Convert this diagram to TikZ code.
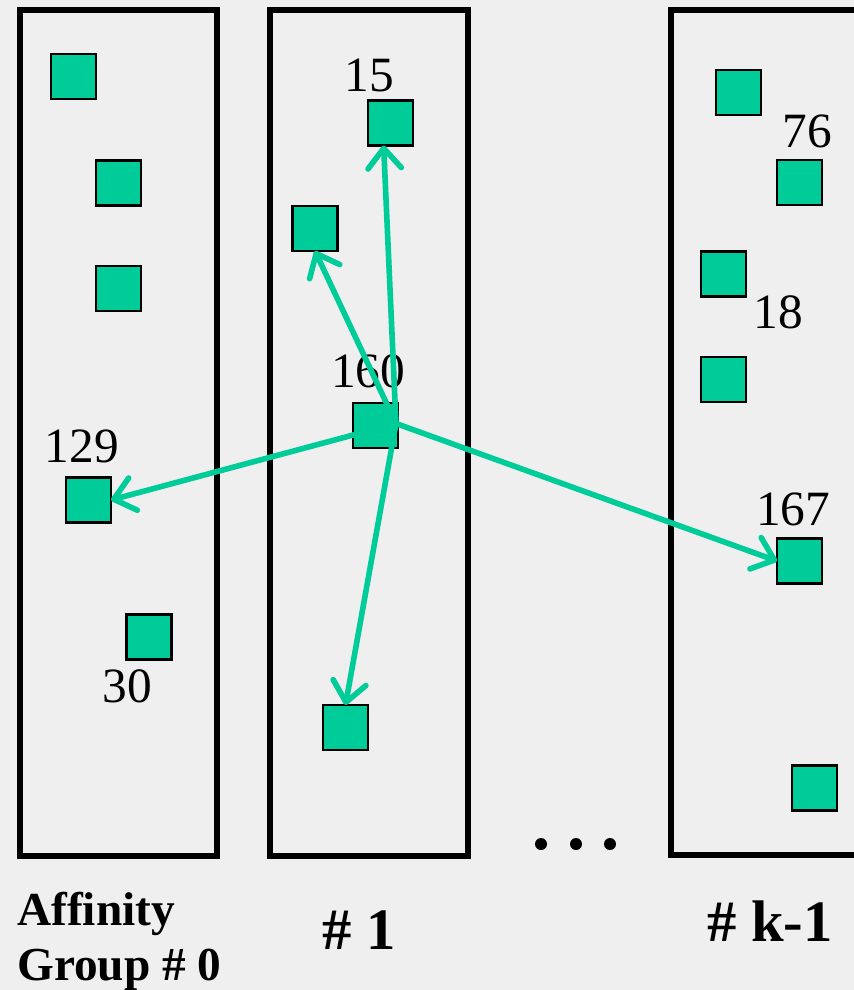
\documentclass[tikz,border=0pt]{standalone}
\usepackage{fontspec}
\setmainfont{Liberation Serif}
\usetikzlibrary{arrows.meta}
\definecolor{bg}{HTML}{EFEFEF}
\definecolor{grn}{HTML}{00CC99}
\begin{document}
\begin{tikzpicture}[x=0.75pt,y=-0.75pt,
  grp/.style={draw=black,line width=4.5pt},
  item/.style={draw=black,fill=grn,line width=1.8pt,minimum size=33.75pt,inner sep=0pt,outer sep=0pt},
  num/.style={inner sep=0pt,font=\fontsize{37}{40}\selectfont},
  capt/.style={inner sep=0pt,font=\fontsize{35.5}{40}\selectfont\bfseries},
  hcapt/.style={inner sep=0pt,font=\fontsize{44}{50}\selectfont\bfseries},
  link/.style={draw=grn,line width=4.2pt,line cap=round,-{Straight Barb[length=15pt,width=25pt,line cap=round,line join=round]}},
  dot/.style={fill=black}
]
\fill[bg] (0,0) rectangle (854,990);
\useasboundingbox (0,0) rectangle (854,990);
% groups
\draw[grp] (20,10) rectangle (217,856);
\draw[grp] (270,10) rectangle (468,856);
\begin{scope}
\clip (0,0) rectangle (854,990);
\draw[grp] (670.5,10) rectangle (880,855);
\end{scope}
% group 0
\node[item] (a1) at (73.5,76.5) {};
\node[item] (a2) at (118.5,183) {};
\node[item] (a3) at (118.5,288.5) {};
\node[item] (a129) at (88.5,500) {};
\node[item] (a30) at (149,637) {};
\node[num] (l129) at (82,446) {129};
\node[num] (l30) at (127,686.5) {30};
% group 1
\node[item] (b15) at (390.5,123) {};
\node[item] (b2) at (315,228.5) {};
\node[item] (b160) at (375.5,425.5) {};
\node[item] (b4) at (345.5,727.5) {};
\node[num] (l15) at (369.5,75.5) {15};
\node[num] (l160) at (368,371) {160};
% group k-1
\node[item] (c1) at (738.5,92.5) {};
\node[item] (c76) at (799.5,182.5) {};
\node[item] (c18) at (723.5,274) {};
\node[item] (c4) at (723.5,379.5) {};
\node[item] (c167) at (799.5,561) {};
\node[item] (c6) at (814.5,788) {};
\node[num] (l76) at (807,131) {76};
\node[num] (l18) at (778,312.5) {18};
\node[num] (l167) at (793,509.5) {167};
% arrows
\coordinate (o) at ([shift={(-2,-2)}]b160.east);
\draw[link] (o) -- (b15.253);
\draw[link] (o) -- (b2.south);
\draw[link] (o) -- (a129.east);
\draw[link] (o) -- (b4.north);
\draw[link] (o) -- (c167.west);
% dots
\fill[dot] (541,844) circle (6);
\fill[dot] (576,844) circle (6);
\fill[dot] (610,844) circle (6);
% captions
\node[capt,anchor=base west] (t0a) at (17,925) {Affinity};
\node[capt,anchor=base west] (t0b) at (17,980) {Group \# 0};
\node[hcapt,anchor=base] (t1) at (359,949) {\# 1};
\node[hcapt,anchor=base] (tk) at (770,941) {\# k-1};
\end{tikzpicture}
\end{document}
